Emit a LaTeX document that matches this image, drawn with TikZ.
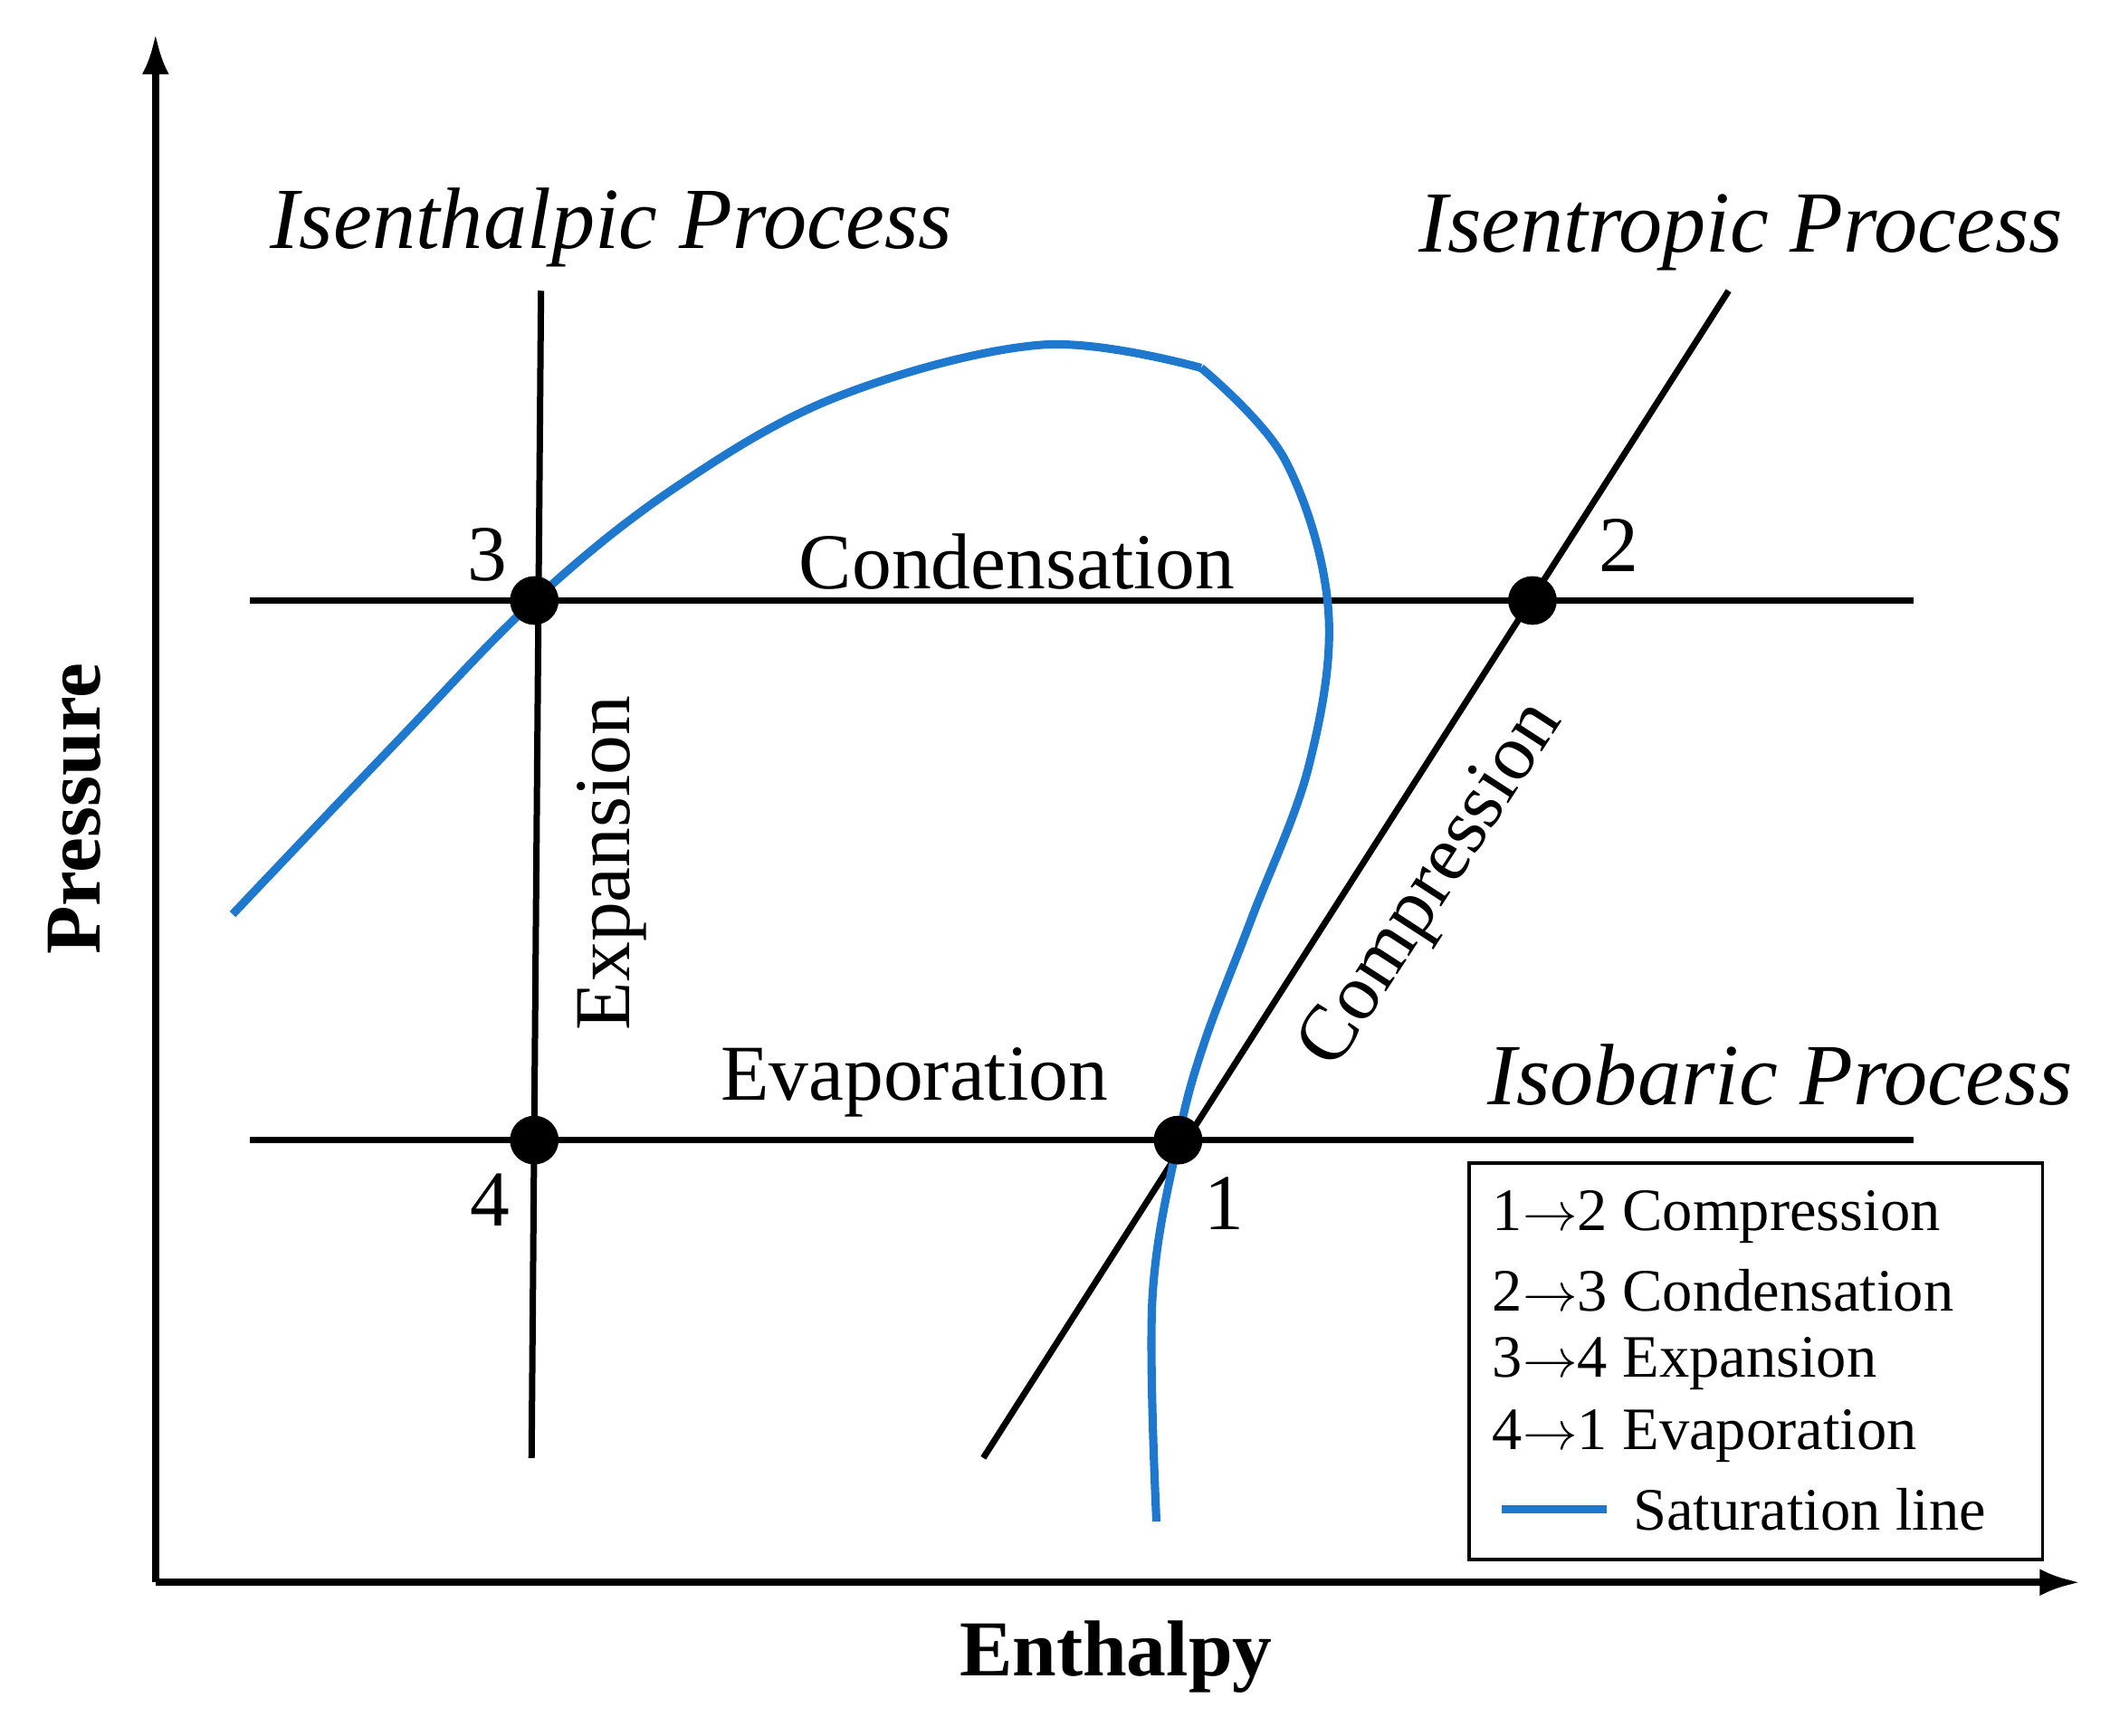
\documentclass[tikz,border=0pt]{standalone}
\usepackage{fontspec}
\usetikzlibrary{arrows.meta}
\setmainfont{Liberation Serif}
\begin{document}
\begin{tikzpicture}[x=0.015cm,y=-0.015cm,
  ln/.style={line width=2pt,black},
  sat/.style={line width=2.6pt,color={rgb,255:red,30;green,120;blue,205}},
  pt/.style={circle,fill=black,inner sep=0pt,minimum size=0.54cm},
  lbl/.style={font=\fontsize{25}{30}\selectfont},
  ital/.style={font=\fontsize{27.5}{33}\selectfont\itshape},
  leg/.style={font=\fontsize{19}{23}\selectfont,anchor=west,inner sep=0pt}]
\useasboundingbox (0,0) rectangle (1560,1283);
% axes
\coordinate (O) at (115,1170);
\coordinate (Ytop) at (115,25);
\coordinate (Xend) at (1538,1170);
\draw[line width=2.2pt,-{Latex[length=0.45cm,width=0.3cm]}] (O) -- (Ytop);
\draw[line width=2.2pt,-{Latex[length=0.45cm,width=0.3cm]}] (O) -- (Xend);
% process lines
\coordinate (cL) at (185,444); \coordinate (cR) at (1415,444);
\coordinate (eL) at (185,843); \coordinate (eR) at (1415,843);
\coordinate (hT) at (400,215); \coordinate (hB) at (393,1078);
\coordinate (sT) at (1278,215); \coordinate (sB) at (727,1078);
\draw[ln] (cL) -- (cR);
\draw[ln] (eL) -- (eR);
\draw[ln] (hT) -- (hB);
\draw[ln] (sT) -- (sB);
% saturation line
\draw[sat] plot[smooth,tension=0.6] coordinates {(172,676)(290,552)(395,444)(500,360)(620,293)(770,255)(888,272)};
\draw[sat] plot[smooth,tension=0.6] coordinates {(888,272)(950,340)(982,450)(968,565)(925,680)(890,772)(871,843)(852,960)(855,1125)};
% points
\node[pt] (p3) at (395,444) {};
\node[pt] (p2) at (1133,444) {};
\node[pt] (p4) at (395,843) {};
\node[pt] (p1) at (871,843) {};
\node[lbl] (l3) at (360,410) {3};
\node[lbl] (l2) at (1197,403) {2};
\node[lbl] (l4) at (362,887) {4};
\node[lbl] (l1) at (905,890) {1};
% process labels
\node[lbl] (tc) at (752,415) {Condensation};
\node[lbl] (te) at (676,800) {Evaporation};
\node[lbl,rotate=90] (tx) at (452,638) {Expansion};
\node[lbl,rotate=57] (tp) at (1060,655) {Compression};
\node[ital] (ih) at (452,168) {Isenthalpic Process};
\node[ital] (is) at (1287,172) {Isentropic Process};
\node[ital] (ib) at (1316,795) {Isobaric Process};
% axis labels
\node[font=\fontsize{25}{30}\selectfont\bfseries,rotate=90] (py) at (55,598) {Pressure};
\node[font=\fontsize{25}{30}\selectfont\bfseries] (hx) at (825,1225) {Enthalpy};
% legend
\draw[line width=1pt] (1086,860) rectangle (1510,1153);
\node[leg] (g1) at (1103,900) {1$\rightarrow$2 Compression};
\node[leg] (g2) at (1103,954) {2$\rightarrow$3 Condensation};
\node[leg] (g3) at (1103,1008) {3$\rightarrow$4 Expansion};
\node[leg] (g4) at (1103,1062) {4$\rightarrow$1 Evaporation};
\coordinate (bl1) at (1110,1116); \coordinate (bl2) at (1188,1116);
\draw[sat] (bl1) -- (bl2);
\node[leg] (g5) at (1207,1116) {Saturation line};
\end{tikzpicture}
\end{document}
